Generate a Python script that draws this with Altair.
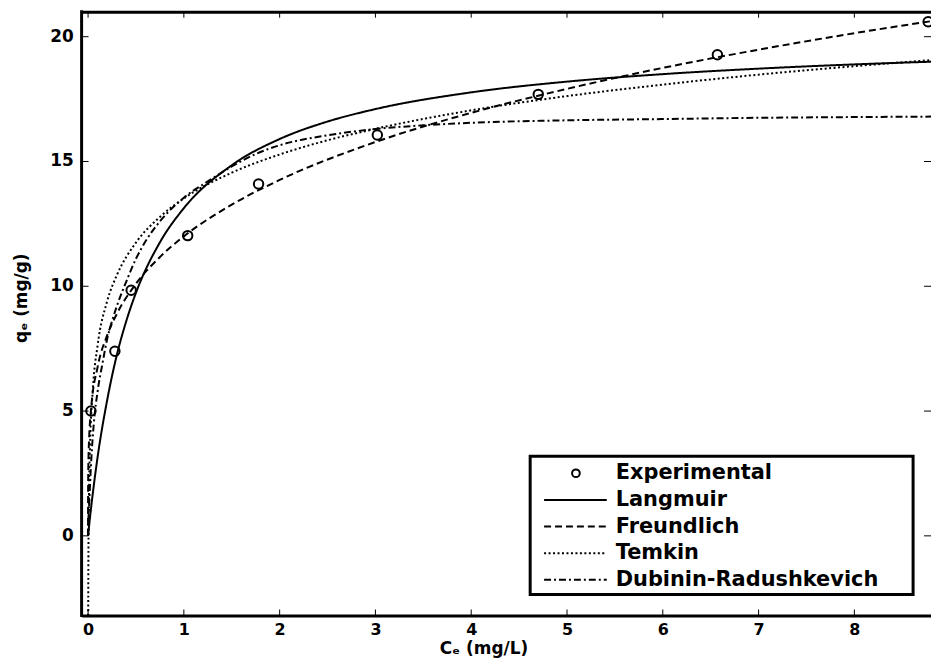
import altair as alt
import pandas as pd

# ---------------- data ----------------
exp_ce = [0.03, 0.28, 0.45, 1.04, 1.78, 3.02, 4.70, 6.57, 8.77]
exp_qe = [5.0, 7.4, 9.84, 12.03, 14.1, 16.06, 17.69, 19.28, 20.6]

lang_ce = [0, 0.01, 0.02, 0.05, 0.1, 0.2, 0.3, 0.4, 0.5, 0.75, 1.0, 1.5, 2.0, 2.5, 3.0, 4.0, 5.0, 6.0, 7.0, 8.0, 8.9]
lang_qe = [0, 0.37, 0.73, 1.72, 3.17, 5.45, 7.24, 8.62, 9.74, 11.76, 13.13, 14.85, 15.90, 16.60, 17.10, 17.77, 18.20, 18.50, 18.72, 18.89, 19.01]

freu_ce = [0, 0.0001, 0.001, 0.005, 0.01, 0.03, 0.1, 0.2, 0.3, 0.5, 0.75, 1.0, 1.5, 2.0, 3.0, 4.0, 5.0, 6.0, 7.0, 8.0, 8.9]
freu_qe = [0, 1.21, 2.15, 3.21, 3.81, 5.01, 6.77, 8.04, 8.89, 10.1, 11.17, 12.0, 13.27, 14.26, 15.78, 16.95, 17.91, 18.75, 19.48, 20.14, 20.68]

temk_ce = [0.0014, 0.003, 0.005, 0.01, 0.02, 0.05, 0.1, 0.2, 0.3, 0.5, 0.75, 1.0, 1.5, 2.0, 2.5, 3.0, 4.0, 5.0, 6.0, 7.0, 8.0, 8.9]
temk_qe = [-3.2, -1.3, 0.0, 1.77, 3.54, 5.88, 7.64, 9.41, 10.44, 11.75, 12.78, 13.52, 14.55, 15.28, 15.85, 16.31, 17.05, 17.62, 18.08, 18.48, 18.82, 19.09]

dr_ce = [0, 0.005, 0.01, 0.03, 0.06, 0.1, 0.15, 0.2, 0.25, 0.3, 0.4, 0.5, 0.6, 0.75, 1.0, 1.25, 1.5, 1.75, 2.0, 2.5, 3.0, 3.5, 4.0, 5.0, 6.0, 7.0, 8.0, 8.9]
dr_qe = [0, 0.6, 1.1, 2.8, 4.5, 5.8, 6.9, 7.9, 8.6, 9.2, 10.2, 11.1, 11.8, 12.6, 13.55, 14.2, 14.8, 15.3, 15.65, 16.05, 16.3, 16.45, 16.55, 16.65, 16.7, 16.75, 16.78, 16.8]

x_ticks = [0, 1, 2, 3, 4, 5, 6, 7, 8]
y_ticks = [0, 5, 10, 15, 20]

legend_labels = ["Experimental", "Langmuir", "Freundlich", "Temkin", "Dubinin-Radushkevich"]
x_title = "Cₑ (mg/L)"
y_title = "qₑ (mg/g)"

# ---------------- layout / style ----------------
W, H = 854, 607
FONT = "DejaVu Sans"
xs = alt.Scale(domain=[-0.0675, 8.80], nice=False, zero=False)
ys = alt.Scale(domain=[-3.19, 21.0], nice=False, zero=False)

dashes = {
    "Langmuir": [1, 0],
    "Freundlich": [7, 4],
    "Temkin": [2, 2.5],
    "Dubinin-Radushkevich": [7, 3, 2, 3],
}

x_axis = alt.Axis(orient="bottom", values=x_ticks, format="d", ticks=False,
                  domain=True, domainColor="black", domainWidth=3, grid=False,
                  labelFont=FONT, labelFontWeight="bold", labelFontSize=16, labelColor="black",
                  labelPadding=6, labelFlush=False, labelOverlap=False,
                  title=x_title, titleFont=FONT, titleFontWeight="bold", titleFontSize=17,
                  titleColor="black", titleX=404, titleY=38, titleAlign="center",
                  titleBaseline="alphabetic")
top_axis = alt.Axis(orient="top", labels=False, ticks=False, domain=True,
                    domainColor="black", domainWidth=3, grid=False, title=None)

xt = pd.DataFrame({"t": x_ticks})
yt = pd.DataFrame({"v": y_ticks})
one = pd.DataFrame({"a": [0]})

# frame ticks (inward); x layers also carry the x axes
bottom_ticks = alt.Chart(xt).mark_rule(color="black", strokeWidth=1).encode(
    x=alt.X("t:Q", scale=xs, axis=x_axis), y=alt.value(H - 6), y2=alt.value(H))
top_ticks = alt.Chart(xt).mark_rule(color="black", strokeWidth=1).encode(
    x=alt.X("t:Q", scale=xs, axis=top_axis), y=alt.value(0), y2=alt.value(6))
left_ticks = alt.Chart(yt).mark_rule(color="black", strokeWidth=1).encode(
    y=alt.Y("v:Q", scale=ys, axis=None), x=alt.value(0), x2=alt.value(7))
right_ticks = alt.Chart(yt).mark_rule(color="black", strokeWidth=1).encode(
    y=alt.Y("v:Q", scale=ys, axis=None), x=alt.value(W - 7), x2=alt.value(W))

# left axis: domain line, labels (through the y scale) and title
left_domain = alt.Chart(one).mark_rule(color="black", strokeWidth=3).encode(
    x=alt.value(0), y=alt.value(-1.5), y2=alt.value(H + 1.5))
left_labels = alt.Chart(yt).mark_text(
    align="right", baseline="middle", font=FONT, fontWeight="bold", fontSize=17,
    color="black", dx=-8).encode(
    y=alt.Y("v:Q", scale=ys, axis=None), x=alt.value(0), text=alt.Text("v:Q", format="d"))
left_title = alt.Chart(pd.DataFrame({"label": [y_title]})).mark_text(
    align="center", baseline="middle", font=FONT, fontWeight="bold", fontSize=17,
    color="black", angle=270).encode(
    x=alt.value(-60), y=alt.value(288), text="label:N")


def curve(ce, qe, name):
    df = pd.DataFrame({"ce": ce, "qe": qe})
    return alt.Chart(df).mark_line(color="black", strokeWidth=2, strokeDash=dashes[name],
                                   interpolate="monotone", clip=True).encode(
        x=alt.X("ce:Q", scale=xs, axis=None),
        y=alt.Y("qe:Q", scale=ys, axis=None),
    )


lang = curve(lang_ce, lang_qe, "Langmuir")
freu = curve(freu_ce, freu_qe, "Freundlich")
temk = curve(temk_ce, temk_qe, "Temkin")
dr = curve(dr_ce, dr_qe, "Dubinin-Radushkevich")

points = alt.Chart(pd.DataFrame({"ce": exp_ce, "qe": exp_qe})).mark_point(
    shape="circle", filled=False, color="black", opacity=1, size=90, strokeWidth=2).encode(
    x=alt.X("ce:Q", scale=xs, axis=None),
    y=alt.Y("qe:Q", scale=ys, axis=None),
)

# custom legend
BX0, BX1, BY0, BY1 = 451, 836, 447, 586
ROW0, STEP = 464, 26.8
SX0, SX1, SC, TX = 465, 528, 497, 537

legend_layers = [
    alt.Chart(one).mark_rect(fill="white", stroke="black", strokeWidth=3).encode(
        x=alt.value(BX0), x2=alt.value(BX1), y=alt.value(BY0), y2=alt.value(BY1))
]
for i, name in enumerate(legend_labels):
    ry = ROW0 + i * STEP
    if i == 0:
        legend_layers.append(alt.Chart(one).mark_point(
            shape="circle", filled=False, color="black", opacity=1, size=60, strokeWidth=2).encode(
            x=alt.value(SC), y=alt.value(ry)))
    else:
        legend_layers.append(alt.Chart(one).mark_rule(
            color="black", strokeWidth=2, strokeDash=dashes[name]).encode(
            x=alt.value(SX0), x2=alt.value(SX1), y=alt.value(ry)))
    legend_layers.append(alt.Chart(pd.DataFrame({"label": [name]})).mark_text(
        align="left", baseline="middle", font=FONT, fontWeight="bold", fontSize=21,
        color="black").encode(x=alt.value(TX), y=alt.value(ry), text="label:N"))

chart = alt.layer(
    bottom_ticks, top_ticks, left_ticks, right_ticks,
    left_domain, left_labels, left_title,
    lang, freu, temk, dr, points,
    *legend_layers,
).properties(
    width=W, height=H,
    autosize=alt.AutoSizeParams(type="none"),
    padding={"left": 74, "top": 2, "right": 0, "bottom": 41},
    background="white",
).configure_view(stroke=None)

chart.save("out.html", embed_options={"renderer": "svg", "actions": False})
